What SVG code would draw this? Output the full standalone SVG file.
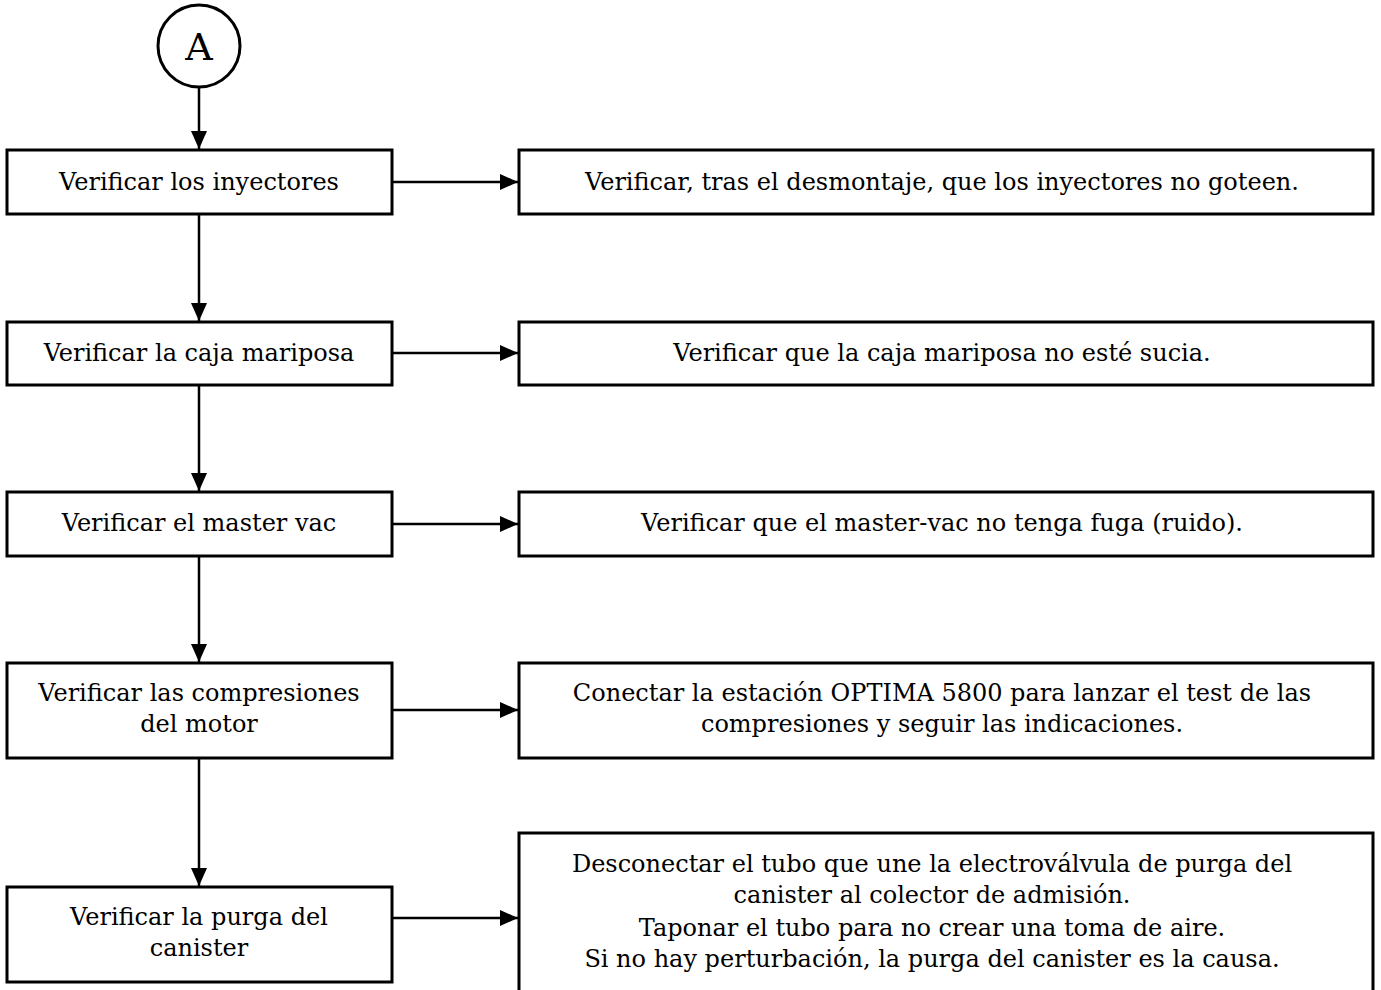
<svg xmlns="http://www.w3.org/2000/svg" width="1381" height="990" viewBox="0 0 1381 990">
<style>
.box{fill:#fff;stroke:#000;stroke-width:3}
.ln{fill:none;stroke:#000;stroke-width:2.5}
text{font-family:"DejaVu Serif","Liberation Serif",serif;font-size:24px;fill:#000;text-anchor:middle}
</style>
<defs>
<marker id="ah" markerWidth="18" markerHeight="16" refX="18" refY="8" orient="auto" markerUnits="userSpaceOnUse">
<path d="M0,0 L18,8 L0,16 Z" fill="#000"/>
</marker>
</defs>
<rect width="1381" height="990" fill="#fff"/>
<g id="start">
<circle cx="199" cy="46" r="41" fill="#fff" stroke="#000" stroke-width="3"/>
<text x="199" y="60" style="font-size:38px">A</text>
</g>
<g id="connectors">
<line class="ln" x1="199" y1="87" x2="199" y2="149" marker-end="url(#ah)"/>
<line class="ln" x1="199" y1="214" x2="199" y2="321" marker-end="url(#ah)"/>
<line class="ln" x1="199" y1="385" x2="199" y2="491" marker-end="url(#ah)"/>
<line class="ln" x1="199" y1="556" x2="199" y2="662" marker-end="url(#ah)"/>
<line class="ln" x1="199" y1="758" x2="199" y2="886" marker-end="url(#ah)"/>
<line class="ln" x1="392" y1="182" x2="518" y2="182" marker-end="url(#ah)"/>
<line class="ln" x1="392" y1="353" x2="518" y2="353" marker-end="url(#ah)"/>
<line class="ln" x1="392" y1="524" x2="518" y2="524" marker-end="url(#ah)"/>
<line class="ln" x1="392" y1="710" x2="518" y2="710" marker-end="url(#ah)"/>
<line class="ln" x1="392" y1="918" x2="518" y2="918" marker-end="url(#ah)"/>
</g>
<g id="n1"><rect class="box" x="7" y="150" width="385" height="64"/><text x="199" y="190">Verificar los inyectores</text></g>
<g id="r1"><rect class="box" x="519" y="150" width="854" height="64"/><text x="942" y="190">Verificar, tras el desmontaje, que los inyectores no goteen.</text></g>
<g id="n2"><rect class="box" x="7" y="322" width="385" height="63"/><text x="199" y="361">Verificar la caja mariposa</text></g>
<g id="r2"><rect class="box" x="519" y="322" width="854" height="63"/><text x="942" y="361">Verificar que la caja mariposa no esté sucia.</text></g>
<g id="n3"><rect class="box" x="7" y="492" width="385" height="64"/><text x="199" y="531">Verificar el master vac</text></g>
<g id="r3"><rect class="box" x="519" y="492" width="854" height="64"/><text x="942" y="531">Verificar que el master-vac no tenga fuga (ruido).</text></g>
<g id="n4"><rect class="box" x="7" y="663" width="385" height="95"/><text x="199" y="701">Verificar las compresiones</text><text x="199" y="732">del motor</text></g>
<g id="r4"><rect class="box" x="519" y="663" width="854" height="95"/><text x="942" y="701">Conectar la estación OPTIMA 5800 para lanzar el test de las</text><text x="942" y="732">compresiones y seguir las indicaciones.</text></g>
<g id="n5"><rect class="box" x="7" y="887" width="385" height="95"/><text x="199" y="925">Verificar la purga del</text><text x="199" y="956">canister</text></g>
<g id="r5"><rect class="box" x="519" y="833" width="854" height="170"/><text x="932" y="872">Desconectar el tubo que une la electroválvula de purga del</text><text x="932" y="903">canister al colector de admisión.</text><text x="932" y="936">Taponar el tubo para no crear una toma de aire.</text><text x="932" y="967">Si no hay perturbación, la purga del canister es la causa.</text></g>
</svg>
